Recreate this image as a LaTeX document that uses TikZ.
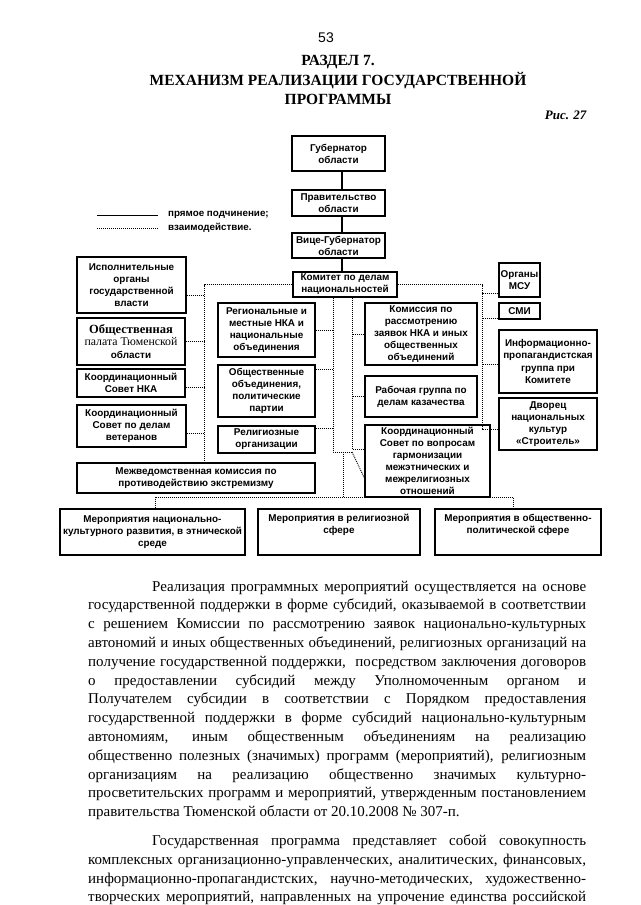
\documentclass[tikz,border=0pt]{standalone}
\usepackage{fontspec}
\setmainfont{Liberation Serif}
\setsansfont{Liberation Sans}
\usetikzlibrary{calc}

\tikzset{
  box/.style={draw, line width=1.3pt, align=center, inner sep=1pt,
    font=\sffamily\bfseries\fontsize{9.9}{12.1}\selectfont},
  sub/.style={line width=1.2pt},
  link/.style={line width=0.95pt, dash pattern=on 0.95pt off 1.05pt},
  legtext/.style={font=\sffamily\bfseries\fontsize{9.8}{11}\selectfont, inner sep=0pt},
}

\begin{document}
\begin{tikzpicture}[x=1pt, y=-1pt]
  \useasboundingbox (0,0) rectangle (640,905);

  % Заголовок
  \node[font=\sffamily\fontsize{14}{16}\selectfont] (pnum) at (326,38) {53};
  \node[font=\bfseries\fontsize{15.5}{19.7}\selectfont, align=center] (title) at (338,80)
    {РАЗДЕЛ 7.\\МЕХАНИЗМ РЕАЛИЗАЦИИ ГОСУДАРСТВЕННОЙ\\ПРОГРАММЫ};
  \node[font=\bfseries\itshape\fontsize{13}{15}\selectfont, anchor=east] (fig) at (590,115) {Рис. 27};

  % Легенда
  \coordinate (lg1a) at (97,215);
  \coordinate (lg1b) at (158,215);
  \coordinate (lg2a) at (97,228);
  \coordinate (lg2b) at (158,228);
  \draw[line width=1pt] (lg1a) -- (lg1b);
  \draw[link] (lg2a) -- (lg2b);
  \node[legtext, anchor=west] (lgt1) at (168,215) {прямое подчинение;};
  \node[legtext, anchor=west] (lgt2) at (168,228) {взаимодействие.};

  % Вертикаль подчинения
  \node[box, minimum width=93pt, minimum height=35pt] (gub) at (338.5,153.5) {Губернатор\\области};
  \node[box, minimum width=93pt, minimum height=26pt] (prav) at (338.5,203) {Правительство\\области};
  \node[box, minimum width=93pt, minimum height=25pt] (vice) at (338.5,245.5) {Вице-Губернатор\\области};
  \node[box, minimum width=104pt, minimum height=25pt] (kom) at (345,284.5) {Комитет по делам\\национальностей};

  % Левая колонка
  \node[box, minimum width=109pt, minimum height=56pt] (isp) at (131.5,285)
    {Исполнительные\\органы\\государственной\\власти};
  \node[box, minimum width=108pt, minimum height=47pt] (pal) at (131,341.5)
    {{\rmfamily\bfseries\fontsize{12.5}{11.8}\selectfont Общественная}\\
     {\rmfamily\mdseries\fontsize{11.8}{11.8}\selectfont палата Тюменской}\\области};
  \node[box, minimum width=108pt, minimum height=28pt] (ksnka) at (131,383)
    {Координационный\\Совет НКА};
  \node[box, minimum width=109pt, minimum height=42pt] (ksvet) at (131.5,426)
    {Координационный\\Совет по делам\\ветеранов};
  \node[box, minimum width=238pt, minimum height=30pt] (mvk) at (196,478)
    {Межведомственная комиссия по\\противодействию экстремизму};

  % Центр
  \node[box, minimum width=97pt, minimum height=54pt] (rnka) at (266.5,330)
    {Региональные и\\местные НКА и\\национальные\\объединения};
  \node[box, minimum width=97pt, minimum height=52pt] (oop) at (266.5,391)
    {Общественные\\объединения,\\политические\\партии};
  \node[box, minimum width=97pt, minimum height=27pt] (rel) at (266.5,439.5)
    {Религиозные\\организации};
  \node[box, minimum width=112pt, minimum height=62pt] (kzr) at (421,334)
    {Комиссия по\\рассмотрению\\заявок НКА и иных\\общественных\\объединений};
  \node[box, minimum width=112pt, minimum height=41pt] (kaz) at (421,396.5)
    {Рабочая группа по\\делам казачества};
  \node[box, minimum width=125pt, minimum height=72pt, inner sep=0pt] (ksg) at (427.5,461)
    {Координационный\\Совет по вопросам\\гармонизации\\межэтнических и\\межрелигиозных\\отношений};

  % Правая колонка
  \node[box, minimum width=41pt, minimum height=34pt] (msu) at (519.5,280) {Органы\\МСУ};
  \node[box, minimum width=41pt, minimum height=16pt] (smi) at (519.5,311) {СМИ};
  \node[box, minimum width=98pt, minimum height=63pt] (ipg) at (548,361.5)
    {Информационно-\\пропагандистская\\группа при\\Комитете};
  \node[box, minimum width=98pt, minimum height=52pt] (dvor) at (548,424)
    {Дворец\\национальных\\культур\\«Строитель»};

  % Мероприятия
  \node[box, minimum width=185pt, minimum height=46pt] (mnk) at (152.5,532)
    {Мероприятия национально-\\культурного развития, в этнической\\среде};
  \node[box, minimum width=162pt, minimum height=46pt] (mrel) at (339,532)
    {Мероприятия в религиозной\\сфере\\\strut};
  \node[box, minimum width=166pt, minimum height=46pt] (mop) at (518,532)
    {Мероприятия в общественно-\\политической сфере\\\strut};

  % Прямое подчинение
  \coordinate (trunk) at (342,0);
  \draw[sub] (gub.south -| trunk) -- (prav.north -| trunk);
  \draw[sub] (prav.south -| trunk) -- (vice.north -| trunk);
  \draw[sub] (vice.south -| trunk) -- (kom.north -| trunk);

  % Взаимодействие: левая шина
  \coordinate (lbus) at (204,0);
  \draw[link] (kom.west) -| (mvk.north -| lbus);
  \draw[link] ([yshift=-10pt]isp.east) -- ([yshift=-10pt]isp.east -| lbus);
  \draw[link] (pal.east) -- (pal.east -| lbus);
  \draw[link] ([yshift=-4pt]ksnka.east) -- ([yshift=-4pt]ksnka.east -| lbus);
  \draw[link] ([yshift=-7pt]ksvet.east) -- ([yshift=-7pt]ksvet.east -| lbus);

  % Взаимодействие: внутренние шины
  \coordinate (ilb) at (333,452);
  \coordinate (irb) at (352,449);
  \draw[link] (kom.south -| ilb) -- (ilb) -- (ilb -| irb);
  \draw[link] (rnka.east) -- (rnka.east -| ilb);
  \draw[link] ([yshift=-5pt]oop.north east) -- ([yshift=-5pt]oop.north east -| ilb);
  \draw[link] ([yshift=-3pt]rel.north east) -- ([yshift=-3pt]rel.north east -| ilb);
  \draw[link] (kom.south -| irb) -- (irb) -- (irb -| ksg.west);
  \draw[link] (kzr.west) -- (kzr.west -| irb);
  \draw[link] (kaz.west) -- (kaz.west -| irb);
  \draw[link] (ilb -| irb) -- ([yshift=-17pt]ksg.west);

  % Взаимодействие: к мероприятиям
  \coordinate (bus) at (343,497);
  \coordinate (bl) at (155,497);
  \coordinate (br) at (513,497);
  \draw[link] (ilb -| bus) -- (bus);
  \draw[link] (mnk.north -| bl) -- (bl) -- (br) -- (mop.north -| br);

  % Взаимодействие: правая шина
  \coordinate (rbus) at (482,429);
  \draw[link] (kom.east) -| (rbus) -- (rbus -| dvor.west);
  \draw[link] ([yshift=-13pt]msu.west) -- ([yshift=-13pt]msu.west -| rbus);
  \draw[link] ([yshift=-7pt]smi.west) -- ([yshift=-7pt]smi.west -| rbus);
  \draw[link] ([yshift=-3pt]ipg.west) -- ([yshift=-3pt]ipg.west -| rbus);

  % Текст
  \node[anchor=base west, text width=498pt, inner sep=0pt, align=justify,
    font=\rmfamily\fontsize{15}{18.8}\selectfont] (body) at (88,591) {%
    \tolerance=10000\hyphenpenalty=10000\parindent=0pt
    \hspace*{64pt}Реализация программных мероприятий осуществляется на основе\linebreak
    государственной поддержки в форме субсидий, оказываемой в соответствии\linebreak
    с решением Комиссии по рассмотрению заявок национально-культурных\linebreak
    автономий и иных общественных объединений, религиозных организаций на\linebreak
    получение государственной поддержки,\ \ посредством заключения договоров\linebreak
    о предоставлении субсидий между Уполномоченным органом и\linebreak
    Получателем субсидии в соответствии с Порядком предоставления\linebreak
    государственной поддержки в форме субсидий национально-культурным\linebreak
    автономиям, иным общественным объединениям на реализацию\linebreak
    общественно полезных (значимых) программ (мероприятий), религиозным\linebreak
    организациям на реализацию общественно значимых культурно-\linebreak
    просветительских программ и мероприятий, утвержденным постановлением\linebreak
    правительства Тюменской области от 20.10.2008 № 307-п.\par
    \vskip 10pt
    \parfillskip=0pt
    \hspace*{64pt}Государственная программа представляет собой совокупность\linebreak
    комплексных организационно-управленческих, аналитических, финансовых,\linebreak
    информационно-пропагандистских,\ \ научно-методических,\ \ художественно-\linebreak
    творческих мероприятий, направленных на упрочение единства российской\par};
\end{tikzpicture}
\end{document}
